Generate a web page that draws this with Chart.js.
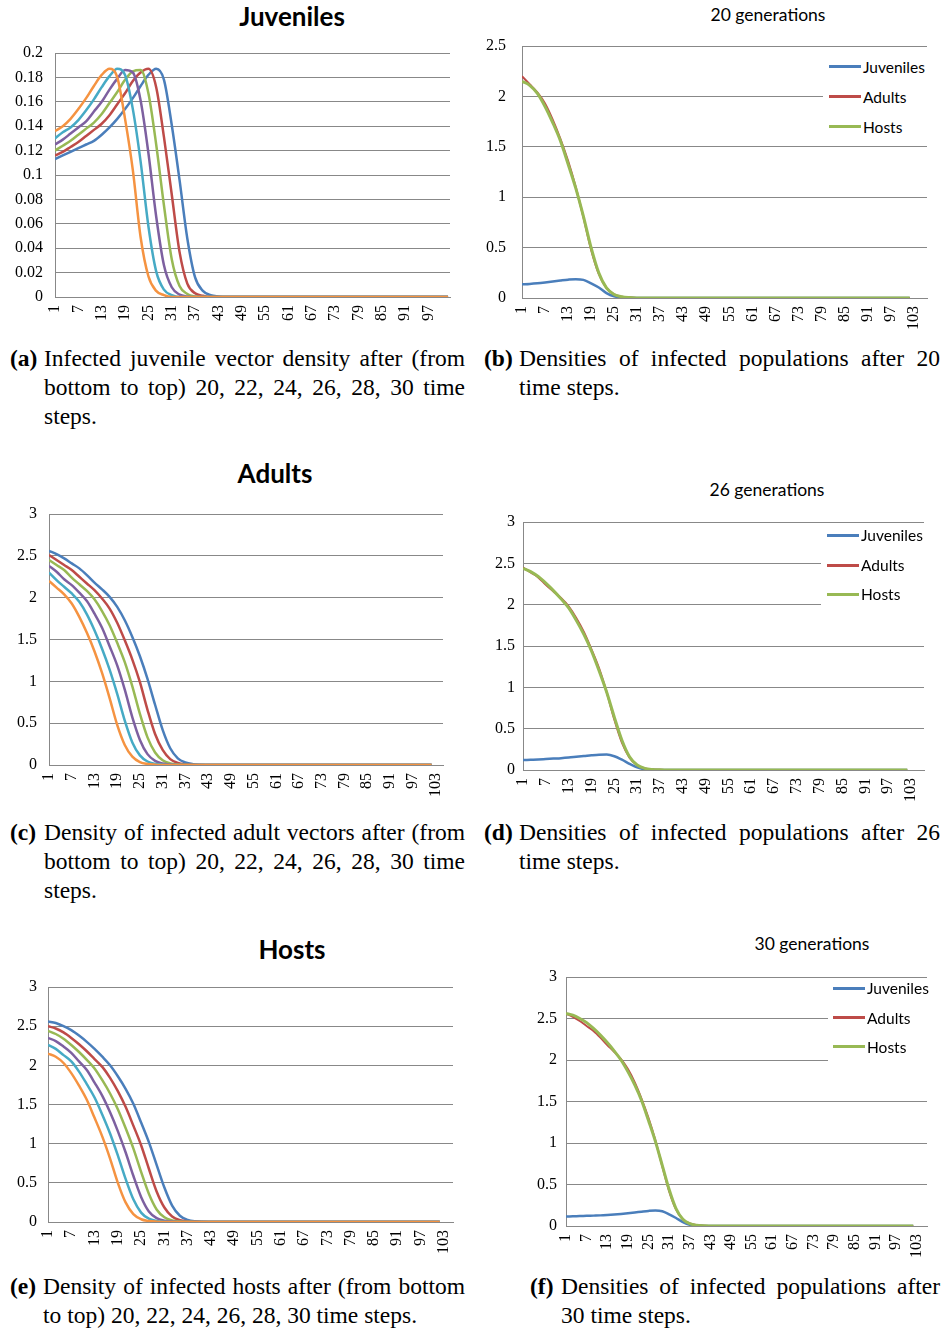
<!DOCTYPE html>
<html lang="en">
<head>
<meta charset="UTF-8">
<title>Infected densities</title>
<script src="https://cdn.jsdelivr.net/npm/chart.js"></script>
<style>
    body {
        margin: 0;
        background: #fff;
        width: 943px;
        height: 1330px;
        position: relative;
        overflow: hidden;
    }
    canvas { position: absolute; }
    .title {
        position: absolute;
        font-family: Lato, "Open Sans", sans-serif;
        color: #000;
        white-space: nowrap;
        line-height: 1;
        transform: translateX(-50%);
    }
    .big { font-weight: bold; font-size: 26px; }
    .gen { font-size: 17.5px; }
    .legend-box { position: absolute; background: #fff; }
    .legend-line { position: absolute; height: 3px; }
    .legend-text {
        position: absolute;
        font-family: Lato, "Open Sans", sans-serif;
        font-size: 15.5px;
        line-height: 20px;
        color: #000;
        white-space: nowrap;
    }
    .cap {
        position: absolute;
        font-family: "Liberation Serif", "Times New Roman", serif;
        font-size: 23.5px;
        line-height: 29px;
        color: #000;
    }
    .cap b { position: absolute; left: 0; top: 0; }
    .cap .txt { position: absolute; top: 0; right: 0; }
    .cap .j { text-align: justify; text-align-last: justify; }
</style>
</head>
<body>

<div class="title big" style="left:292px; top:3px">Juveniles</div>
<div class="title gen" style="left:768px; top:6px">20 generations</div>
<div class="title big" style="left:275px; top:460px">Adults</div>
<div class="title gen" style="left:767px; top:481px">26 generations</div>
<div class="title big" style="left:292px; top:936px">Hosts</div>
<div class="title gen" style="left:812px; top:935px">30 generations</div>

<canvas id="chartA"></canvas>
<canvas id="chartB"></canvas>
<canvas id="chartC"></canvas>
<canvas id="chartD"></canvas>
<canvas id="chartE"></canvas>
<canvas id="chartF"></canvas>

<div class="cap" style="left:10px; top:343.5px; width:455px">
    <b>(a)</b>
    <div class="txt" style="left:34px">
        <div class="j">Infected juvenile vector density after (from</div>
        <div class="j">bottom to top) 20, 22, 24, 26, 28, 30 time</div>
        <div>steps.</div>
    </div>
</div>
<div class="cap" style="left:484px; top:343.5px; width:456px">
    <b>(b)</b>
    <div class="txt" style="left:35px">
        <div class="j">Densities of infected populations after 20</div>
        <div>time steps.</div>
    </div>
</div>
<div class="cap" style="left:10px; top:817.5px; width:455px">
    <b>(c)</b>
    <div class="txt" style="left:34px">
        <div class="j">Density of infected adult vectors after (from</div>
        <div class="j">bottom to top) 20, 22, 24, 26, 28, 30 time</div>
        <div>steps.</div>
    </div>
</div>
<div class="cap" style="left:484px; top:817.5px; width:456px">
    <b>(d)</b>
    <div class="txt" style="left:35px">
        <div class="j">Densities of infected populations after 26</div>
        <div>time steps.</div>
    </div>
</div>
<div class="cap" style="left:10px; top:1271.5px; width:455px">
    <b>(e)</b>
    <div class="txt" style="left:33px">
        <div class="j">Density of infected hosts after (from bottom</div>
        <div>to top) 20, 22, 24, 26, 28, 30 time steps.</div>
    </div>
</div>
<div class="cap" style="left:530px; top:1271.5px; width:410px">
    <b>(f)</b>
    <div class="txt" style="left:31px">
        <div class="j">Densities of infected populations after</div>
        <div>30 time steps.</div>
    </div>
</div>

<script>
// time steps (every 2nd step while the curves move, then the flat tail)
const steps = [1, 3, 5, 7, 9, 11, 13, 15, 17, 19, 21, 23, 25, 27, 29, 31, 33, 35, 37, 39, 41, 43, 45, 47, 102];

const xTicksA = [1, 7, 13, 19, 25, 31, 37, 43, 49, 55, 61, 67, 73, 79, 85, 91, 97];
const xTicks = [1, 7, 13, 19, 25, 31, 37, 43, 49, 55, 61, 67, 73, 79, 85, 91, 97, 103];
const yTicksJuv = [0, 0.02, 0.04, 0.06, 0.08, 0.1, 0.12, 0.14, 0.16, 0.18, 0.2];
const yTicksB = [0, 0.5, 1, 1.5, 2, 2.5];
const yTicks3 = [0, 0.5, 1, 1.5, 2, 2.5, 3];

// infected juveniles after 20..30 time steps
const juv30 = [0.113, 0.116, 0.119, 0.122, 0.125, 0.128, 0.133, 0.139, 0.146, 0.154, 0.163, 0.173, 0.182, 0.187, 0.178, 0.141, 0.096, 0.048, 0.016, 0.005, 0.0015, 0.0005, 0, 0, 0];
const juv28 = [0.116, 0.119, 0.123, 0.127, 0.132, 0.137, 0.142, 0.149, 0.158, 0.167, 0.177, 0.184, 0.187, 0.172, 0.131, 0.084, 0.037, 0.011, 0.003, 0.001, 0, 0, 0, 0, 0];
const juv26 = [0.120, 0.124, 0.128, 0.133, 0.138, 0.143, 0.150, 0.159, 0.168, 0.178, 0.185, 0.186, 0.167, 0.125, 0.075, 0.031, 0.009, 0.0025, 0.0005, 0, 0, 0, 0, 0, 0];
const juv24 = [0.125, 0.129, 0.134, 0.139, 0.144, 0.152, 0.160, 0.170, 0.179, 0.186, 0.184, 0.161, 0.118, 0.066, 0.026, 0.008, 0.002, 0.0005, 0, 0, 0, 0, 0, 0, 0];
const juv22 = [0.130, 0.135, 0.139, 0.145, 0.153, 0.162, 0.172, 0.181, 0.187, 0.182, 0.154, 0.111, 0.058, 0.021, 0.006, 0.0015, 0, 0, 0, 0, 0, 0, 0, 0, 0];
const juv20 = [0.136, 0.140, 0.146, 0.154, 0.163, 0.173, 0.182, 0.187, 0.180, 0.146, 0.104, 0.049, 0.017, 0.005, 0.0015, 0, 0, 0, 0, 0, 0, 0, 0, 0, 0];

// infected adult vectors
const adu30 = [2.56, 2.52, 2.47, 2.41, 2.35, 2.27, 2.18, 2.10, 2.01, 1.89, 1.73, 1.53, 1.30, 1.03, 0.72, 0.42, 0.20, 0.08, 0.03, 0.01, 0.003, 0.001, 0, 0, 0];
const adu28 = [2.51, 2.45, 2.39, 2.33, 2.25, 2.17, 2.09, 1.99, 1.87, 1.70, 1.49, 1.26, 0.99, 0.66, 0.37, 0.18, 0.07, 0.025, 0.008, 0.002, 0, 0, 0, 0, 0];
const adu26 = [2.45, 2.39, 2.33, 2.24, 2.16, 2.08, 1.98, 1.84, 1.67, 1.46, 1.23, 0.94, 0.61, 0.33, 0.15, 0.058, 0.02, 0.006, 0.002, 0, 0, 0, 0, 0, 0];
const adu24 = [2.38, 2.31, 2.22, 2.15, 2.06, 1.96, 1.81, 1.64, 1.42, 1.19, 0.90, 0.57, 0.30, 0.13, 0.05, 0.017, 0.005, 0.001, 0, 0, 0, 0, 0, 0, 0];
const adu22 = [2.30, 2.21, 2.13, 2.05, 1.95, 1.80, 1.61, 1.39, 1.14, 0.85, 0.53, 0.27, 0.115, 0.042, 0.014, 0.004, 0.001, 0, 0, 0, 0, 0, 0, 0, 0];
const adu20 = [2.20, 2.12, 2.04, 1.93, 1.77, 1.58, 1.36, 1.10, 0.80, 0.48, 0.24, 0.10, 0.035, 0.012, 0.004, 0.001, 0, 0, 0, 0, 0, 0, 0, 0, 0];

// infected hosts
const hos30 = [2.56, 2.54, 2.50, 2.45, 2.38, 2.30, 2.21, 2.11, 2.00, 1.86, 1.70, 1.51, 1.27, 1.02, 0.73, 0.44, 0.21, 0.08, 0.028, 0.009, 0.003, 0.001, 0, 0, 0];
const hos28 = [2.50, 2.47, 2.42, 2.35, 2.27, 2.18, 2.08, 1.98, 1.84, 1.67, 1.47, 1.23, 0.98, 0.68, 0.39, 0.185, 0.07, 0.024, 0.008, 0.002, 0, 0, 0, 0, 0];
const hos26 = [2.44, 2.40, 2.34, 2.26, 2.17, 2.07, 1.96, 1.81, 1.64, 1.44, 1.20, 0.94, 0.64, 0.36, 0.16, 0.06, 0.02, 0.006, 0.002, 0, 0, 0, 0, 0, 0];
const hos24 = [2.35, 2.31, 2.24, 2.16, 2.05, 1.94, 1.78, 1.61, 1.40, 1.16, 0.89, 0.59, 0.32, 0.135, 0.05, 0.017, 0.005, 0.001, 0, 0, 0, 0, 0, 0, 0];
const hos22 = [2.26, 2.21, 2.13, 2.05, 1.92, 1.76, 1.59, 1.37, 1.13, 0.85, 0.55, 0.29, 0.12, 0.042, 0.014, 0.004, 0.001, 0, 0, 0, 0, 0, 0, 0, 0];
const hos20 = [2.15, 2.11, 2.03, 1.90, 1.74, 1.56, 1.33, 1.09, 0.81, 0.50, 0.25, 0.10, 0.035, 0.012, 0.004, 0.001, 0, 0, 0, 0, 0, 0, 0, 0, 0];

const blue = '#4a7ebb', red = '#be4b48', green = '#98b954',
      purple = '#7d60a0', aqua = '#46aac5', orange = '#f59341';
const gridColor = '#888888';

function sixSeries(v30, v28, v26, v24, v22, v20) {
    return [
        { label: '30', values: v30, color: blue, width: 2.5 },
        { label: '28', values: v28, color: red, width: 2.5 },
        { label: '26', values: v26, color: green, width: 2.5 },
        { label: '24', values: v24, color: purple, width: 2.5 },
        { label: '22', values: v22, color: aqua, width: 2.5 },
        { label: '20', values: v20, color: orange, width: 2.5 }
    ];
}

function threeSeries(juv, adu, hos) {
    return [
        { label: 'Juveniles', values: juv, color: blue, width: 2.5 },
        { label: 'Adults', values: adu, color: red, width: 2 },
        { label: 'Hosts', values: hos, color: green, width: 3 }
    ];
}

function fmt(v) { return String(Number(v.toFixed(2))); }

// box = plot area in page pixels
function makeChart(id, box, xMax, xTickVals, yMax, yTickVals, yPad, series) {
    const yw = Math.min(50, box.l), xh = 40, pt = 12, pr = 8;
    const cv = document.getElementById(id);
    cv.width = box.r - box.l + yw + pr;
    cv.height = box.b - box.t + pt + xh;
    cv.style.left = (box.l - yw) + 'px';
    cv.style.top = (box.t - pt) + 'px';

    return new Chart(cv, {
        type: 'line',
        data: {
            datasets: series.map((s, i) => ({
                label: s.label,
                data: steps.map((x, j) => ({ x: x, y: s.values[j] })),
                borderColor: s.color,
                borderWidth: s.width,
                pointRadius: 0,
                fill: false,
                cubicInterpolationMode: 'monotone',
                order: series.length - i   // later series on top, like Excel
            }))
        },
        options: {
            responsive: false,
            animation: false,
            devicePixelRatio: 1,
            layout: { padding: { top: pt, right: pr, left: 0, bottom: 0 } },
            plugins: { legend: { display: false }, tooltip: { enabled: false } },
            scales: {
                x: {
                    type: 'linear',
                    min: 1,
                    max: xMax,
                    afterBuildTicks: sc => { sc.ticks = xTickVals.map(v => ({ value: v })); },
                    afterFit: sc => {
                        sc.height = xh;
                        sc.paddingLeft = 0; sc.paddingRight = 0;
                    },
                    grid: { display: false, drawTicks: false },
                    border: { display: true, color: gridColor, width: 1 },
                    ticks: {
                        autoSkip: false,
                        minRotation: 90,
                        maxRotation: 90,
                        padding: 8,
                        color: '#000',
                        font: { family: 'Liberation Serif', size: 16 },
                        callback: v => String(v)
                    }
                },
                y: {
                    min: 0,
                    max: yMax,
                    afterBuildTicks: sc => { sc.ticks = yTickVals.map(v => ({ value: v })); },
                    afterFit: sc => {
                        sc.width = yw;
                        sc.paddingTop = 0; sc.paddingBottom = 0;
                    },
                    grid: { color: gridColor, lineWidth: 1, drawTicks: false },
                    border: { display: true, color: gridColor, width: 1 },
                    ticks: {
                        padding: yPad,
                        color: '#000',
                        font: { family: 'Liberation Serif', size: 16 },
                        callback: v => fmt(v)
                    }
                }
            }
        }
    });
}

// legend drawn over the plot (white box hides the gridlines, as in the original)
function addLegend(chart, box, ys, x1, x2) {
    const bx = document.createElement('div');
    bx.className = 'legend-box';
    bx.style.left = box.l + 'px'; bx.style.top = box.t + 'px';
    bx.style.width = box.w + 'px'; bx.style.height = box.h + 'px';
    document.body.appendChild(bx);
    chart.data.datasets.forEach((ds, i) => {
        const ln = document.createElement('div');
        ln.className = 'legend-line';
        ln.style.left = x1 + 'px';
        ln.style.top = (ys[i] - 1.5) + 'px';
        ln.style.width = (x2 - x1) + 'px';
        ln.style.background = ds.borderColor;
        document.body.appendChild(ln);
        const tx = document.createElement('div');
        tx.className = 'legend-text';
        tx.style.left = (x2 + 2) + 'px';
        tx.style.top = (ys[i] - 10) + 'px';
        tx.textContent = ds.label;
        document.body.appendChild(tx);
    });
}

makeChart('chartA', { l: 55, t: 53, r: 450, b: 297 }, 102.5, xTicksA, 0.2, yTicksJuv, 12,
    sixSeries(juv30, juv28, juv26, juv24, juv22, juv20));
makeChart('chartC', { l: 49, t: 514, r: 443, b: 765 }, 105, xTicks, 3, yTicks3, 12,
    sixSeries(adu30, adu28, adu26, adu24, adu22, adu20));
makeChart('chartE', { l: 48, t: 987, r: 453, b: 1222 }, 105.4, xTicks, 3, yTicks3, 11,
    sixSeries(hos30, hos28, hos26, hos24, hos22, hos20));

const chB = makeChart('chartB', { l: 522, t: 46, r: 927, b: 298 }, 106.5, xTicks, 2.5, yTicksB, 16,
    threeSeries(juv20, adu20, hos20));
const chD = makeChart('chartD', { l: 523, t: 522, r: 924, b: 770 }, 106.4, xTicks, 3, yTicks3, 8,
    threeSeries(juv26, adu26, hos26));
const chF = makeChart('chartF', { l: 566, t: 977, r: 927, b: 1226 }, 106, xTicks, 3, yTicks3, 9,
    threeSeries(juv30, adu30, hos30));

addLegend(chB, { l: 823, t: 52, w: 104, h: 88 }, [66.7, 96.7, 126.7], 829, 861);
addLegend(chD, { l: 821, t: 526, w: 103, h: 86 }, [535, 565, 594], 827, 859);
addLegend(chF, { l: 828, t: 980, w: 99, h: 84 }, [988.3, 1017.7, 1046.7], 833, 865);
</script>
</body>
</html>
